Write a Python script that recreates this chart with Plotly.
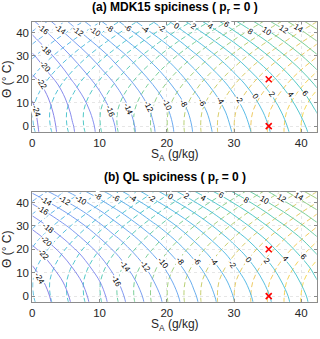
import plotly.graph_objects as go

# grid nodes (absolute salinity g/kg, conservative temperature degC)
SA_GRID = [0, 6, 12, 18, 24, 30, 36, 42, 45]
CT_GRID = [-3, 0, 6, 12, 18, 24, 30, 36, 42, 45]

# spiciness, one row per CT node
SPICE_MDK15 = [
    [-24.75, -20.2, -16.3, -12.2, -7.9, -3.8, 0.4, 4.7, 6.9],
    [-24.65, -20.1, -16.2, -12.1, -7.8, -3.6, 0.6, 5.0, 7.2],
    [-24.4, -19.7, -15.8, -11.7, -7.4, -3.1, 1.2, 5.8, 8.1],
    [-23.9, -19.1, -15.1, -11.0, -6.6, -2.3, 2.1, 6.8, 9.2],
    [-23.0, -18.2, -14.2, -9.9, -5.5, -1.2, 3.3, 8.1, 10.5],
    [-21.5, -17.1, -12.9, -8.6, -4.2, 0.3, 4.8, 9.7, 12.2],
    [-20.3, -15.8, -11.5, -7.1, -2.5, 2.0, 6.7, 11.5, 13.9],
    [-18.8, -14.2, -9.7, -5.2, -0.5, 4.1, 8.8, 13.6, 16.0],
    [-17.2, -12.3, -7.7, -3.0, 1.8, 6.5, 11.2, 16.0, 18.4],
    [-16.2, -11.3, -6.6, -1.8, 3.1, 7.8, 12.6, 17.3, 19.7],
]

# spiciness
SPICE_QL = [
    [-25.95, -21.8, -17.4, -13.0, -8.5, -4.1, 0.3, 4.7, 7.0],
    [-25.8, -21.6, -17.2, -12.8, -8.3, -3.9, 0.5, 4.9, 7.2],
    [-25.2, -21.0, -16.6, -12.1, -7.7, -3.3, 1.2, 5.6, 7.8],
    [-24.2, -20.0, -15.6, -11.2, -6.8, -2.3, 2.1, 6.5, 8.7],
    [-23.0, -18.8, -14.4, -9.9, -5.5, -1.1, 3.4, 7.8, 10.0],
    [-21.4, -17.2, -12.8, -8.4, -3.9, 0.5, 4.9, 9.3, 11.6],
    [-19.5, -15.4, -10.9, -6.5, -2.1, 2.4, 6.8, 11.2, 13.4],
    [-17.4, -13.2, -8.8, -4.3, 0.1, 4.5, 9.0, 13.4, 15.6],
    [-14.9, -10.7, -6.3, -1.8, 2.6, 7.0, 11.5, 15.9, 18.1],
    [-13.5, -9.3, -4.9, -0.5, 4.0, 8.4, 12.8, 17.3, 19.5],
]

# potential density anomaly (dashed), same in both panels
SIGMA0 = [
    [-0.4, 4.47, 9.34, 14.22, 19.09, 23.96, 28.83, 33.7, 36.14],
    [-0.16, 4.67, 9.5, 14.33, 19.16, 23.99, 28.82, 33.65, 36.07],
    [-0.06, 4.71, 9.48, 14.25, 19.02, 23.79, 28.56, 33.33, 35.72],
    [-0.5, 4.21, 8.92, 13.63, 18.34, 23.05, 27.76, 32.47, 34.83],
    [-1.4, 3.26, 7.91, 12.57, 17.22, 21.88, 26.54, 31.19, 33.52],
    [-2.7, 1.91, 6.52, 11.12, 15.73, 20.34, 24.95, 29.56, 31.86],
    [-4.35, 0.22, 4.78, 9.35, 13.91, 18.48, 23.05, 27.61, 29.9],
    [-6.32, -1.79, 2.74, 7.27, 11.8, 16.33, 20.86, 25.39, 27.66],
    [-8.56, -4.07, 0.43, 4.92, 9.42, 13.91, 18.4, 22.9, 25.15],
    [-9.79, -5.31, -0.84, 3.64, 8.11, 12.59, 17.07, 21.54, 23.78],
]

SPICE_LEVELS = (-26, 20, 2)
SIGMA_LEVELS = (-10, 36, 2)
CMIN, CMAX = -25, 34  # shared colour limits of both contour sets

# inline contour labels as placed in the reference: (level, SA, CT, angle)
CLABELS_MDK15 = [
    (-16, 1.6, 41.1, 38), (-14, 4.1, 41.1, 36), (-12, 6.8, 40.4, 35), (-10, 9.3, 40.4, 35),
    (-8, 11.5, 41.8, 34), (-6, 14.3, 41.8, 34), (-4, 16.8, 41.1, 34), (-2, 19.3, 41.8, 34),
    (0, 21.5, 42.5, 33), (2, 24.0, 42.5, 33), (4, 26.5, 42.5, 33), (6, 28.9, 43.2, 33),
    (8, 32.4, 40.4, 34), (10, 34.9, 40.4, 34), (12, 37.4, 41.1, 33), (14, 39.6, 41.8, 33),
    (-18, 2.1, 32.5, 45), (-20, 1.9, 25.4, 50), (-22, 1.4, 18.3, 57), (-24, 0.6, 6.2, 72),
    (-16, 11.6, 6.2, 69), (-14, 14.3, 7.1, 67), (-12, 17.3, 8.5, 64), (-10, 20.0, 9.2, 62),
    (-8, 22.5, 9.8, 60), (-6, 25.2, 10.0, 60), (-4, 27.9, 10.8, 58), (-2, 30.7, 11.3, 57),
    (0, 33.2, 12.6, 55), (2, 35.6, 13.3, 53), (4, 38.4, 13.3, 52), (6, 40.6, 14.0, 50),
]
CLABELS_QL = [
    (-14, 2.1, 40.3, 32), (-12, 4.8, 41.0, 31), (-10, 7.3, 41.0, 31), (-8, 9.8, 42.4, 30),
    (-6, 12.5, 41.7, 30), (-4, 15.0, 41.7, 30), (-2, 17.8, 41.7, 30), (0, 20.5, 42.4, 30),
    (2, 23.0, 42.4, 30), (4, 25.5, 41.7, 30), (6, 28.2, 43.0, 30), (8, 31.9, 41.0, 31),
    (10, 34.6, 41.0, 31), (12, 37.1, 41.7, 30), (14, 39.6, 42.4, 30),
    (-16, 1.6, 36.7, 33), (-18, 2.4, 28.9, 38), (-20, 2.1, 23.2, 43), (-22, 1.6, 17.6, 48),
    (-24, 1.1, 7.7, 60),
    (-16, 12.5, 6.2, 63), (-14, 13.8, 12.6, 54), (-12, 16.8, 12.6, 54), (-10, 19.5, 14.0, 52),
    (-8, 22.0, 14.7, 52), (-6, 24.5, 14.7, 52), (-4, 27.0, 14.7, 52), (-2, 29.7, 13.3, 53),
    (0, 32.2, 15.3, 51), (2, 34.9, 14.7, 52), (4, 37.6, 16.0, 50), (6, 40.4, 16.6, 50),
]

MARKER_SA = [35.165, 35.165]
MARKER_CT = [20, 0]

TICKS = [0, 10, 20, 30, 40]
TITLES = ["<b>(a) MDK15 spiciness ( p<sub>r</sub> = 0 )</b>",
          "<b>(b) QL spiciness ( p<sub>r</sub> = 0 )</b>"]

# line colours as seen in the reference, keyed by contour value
LINE_COLORS = [(-25, "#7d6ee0"), (-18, "#7a86ee"), (-10, "#5fa0ee"), (-2, "#48b4e4"),
               (6, "#3ec3c0"), (12, "#6cc98c"), (17, "#a6cc6a"), (22, "#d6c75a"),
               (27, "#f2c24e"), (34, "#f5dc40")]

FONT = "Liberation Sans, Arial, sans-serif"
W, H = 320, 339


def hex_rgb(h):
    return [int(h[i:i + 2], 16) for i in (1, 3, 5)]


def color_at(v):
    v = min(max(v, CMIN), CMAX)
    for (v0, c0), (v1, c1) in zip(LINE_COLORS, LINE_COLORS[1:]):
        if v <= v1:
            f = (v - v0) / (v1 - v0)
            rgb = [a + (b - a) * f for a, b in zip(hex_rgb(c0), hex_rgb(c1))]
            return "rgb(%d,%d,%d)" % tuple(round(c) for c in rgb)


def level_scale(levels):
    # one colour per contour level
    start, end, step = levels
    vals = list(range(start, end + 1, step))
    n = len(vals)
    return [[i / (n - 1), color_at(v)] for i, v in enumerate(vals)]


def py(px):
    # pixel row -> paper fraction
    return 1 - px / H


fig = go.Figure()

panels = [("x", "y", SPICE_MDK15, CLABELS_MDK15), ("x2", "y2", SPICE_QL, CLABELS_QL)]
for xa, ya, spice, clabels in panels:
    fig.add_trace(go.Contour(
        x=SA_GRID, y=CT_GRID, z=SIGMA0, xaxis=xa, yaxis=ya,
        contours=dict(coloring="lines", start=SIGMA_LEVELS[0], end=SIGMA_LEVELS[1],
                      size=SIGMA_LEVELS[2]),
        colorscale=level_scale(SIGMA_LEVELS),
        line=dict(width=0.9, dash="5px,3px", smoothing=1),
        showscale=False, hoverinfo="skip"))
    fig.add_trace(go.Contour(
        x=SA_GRID, y=CT_GRID, z=spice, xaxis=xa, yaxis=ya,
        contours=dict(coloring="lines", start=SPICE_LEVELS[0], end=SPICE_LEVELS[1],
                      size=SPICE_LEVELS[2]),
        colorscale=level_scale(SPICE_LEVELS),
        line=dict(width=0.9, smoothing=1),
        showscale=False, hoverinfo="skip"))
    fig.add_trace(go.Scatter(
        x=MARKER_SA, y=MARKER_CT, xaxis=xa, yaxis=ya, mode="markers",
        marker=dict(symbol="x-thin", size=6, line=dict(width=1.6, color="red")),
        hoverinfo="skip", showlegend=False))
    for level, sa, ct, angle in clabels:
        fig.add_annotation(x=sa, y=ct, xref=xa, yref=ya, text=str(level), textangle=angle,
                           showarrow=False, bgcolor="white", borderpad=0,
                           font=dict(size=8, color="black", family=FONT))

axis_style = dict(
    showline=True, linecolor="#8c8c8c", linewidth=1, mirror="ticks",
    ticks="inside", ticklen=3, tickcolor="#8c8c8c", tickvals=TICKS,
    showgrid=True, gridcolor="#e6e6e6", griddash="dot", zeroline=False,
    automargin=False, tickfont=dict(size=11.5, color="#262626", family=FONT),
)

x_dom = [32.3 / W, 316.7 / W]
fig.update_layout(
    template="none", width=W, height=H, margin=dict(l=0, r=0, t=0, b=0, autoexpand=False),
    plot_bgcolor="white", paper_bgcolor="white", showlegend=False,
    font=dict(family=FONT),
    xaxis=dict(domain=x_dom, range=[0, 42.3], anchor="y", **axis_style),
    yaxis=dict(domain=[py(131.7), py(21.7)], range=[-2.4, 44.6], anchor="x", **axis_style),
    xaxis2=dict(domain=x_dom, range=[0, 42.3], anchor="y2", **axis_style),
    yaxis2=dict(domain=[py(301.7), py(191.7)], range=[-2.4, 44.6], anchor="x2", **axis_style),
)

text_font = dict(size=12, color="#262626", family=FONT)
for i, top in enumerate([0, 170]):
    common = dict(xref="paper", yref="paper", xanchor="center", yanchor="middle", showarrow=False)
    fig.add_annotation(text=TITLES[i], x=174.5 / W, y=py(top + 7.5),
                       font=dict(size=12, color="black", family=FONT), **common)
    fig.add_annotation(text="S<sub>A</sub> (g/kg)", x=174.5 / W, y=py(top + 155),
                       font=text_font, **common)
    fig.add_annotation(text="\u0398 (\u00b0 C)", x=7 / W, y=py(top + 80), textangle=-90,
                       font=text_font, **common)

# the page body keeps its default 8px margin otherwise
fig.write_html("out.html", config={"displayModeBar": False},
               post_script="document.body.style.margin='0';")
